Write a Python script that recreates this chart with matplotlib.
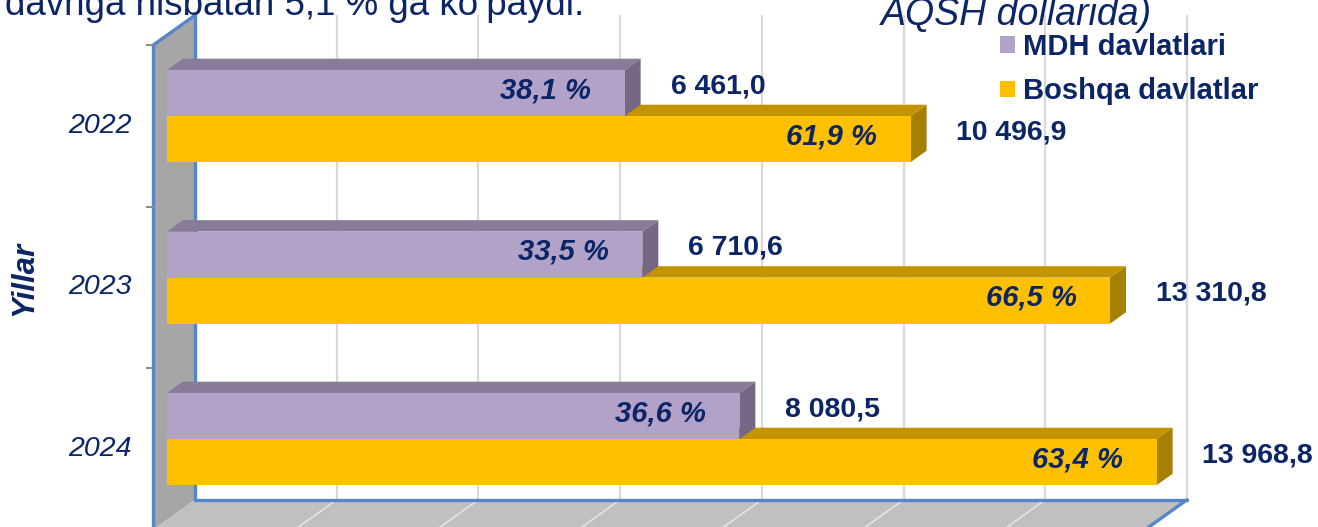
import matplotlib
matplotlib.use('Agg')
import matplotlib.pyplot as plt
from matplotlib.patches import Polygon, Patch

plt.rcParams['font.family'] = ['Liberation Sans', 'DejaVu Sans']

# eksport, mln. AQSH dollari
years = ['2022', '2023', '2024']
mdh = [6461.0, 6710.6, 8080.5]
boshqa = [10496.9, 13310.8, 13968.8]
series_names = ['MDH davlatlari', 'Boshqa davlatlar']
xmax = 14000
xstep = 2000

NAVY = '#0B2566'
BLUE = '#5586C8'
face = {'mdh': ('#B3A2C7', '#887C98', '#746884'),
        'boshqa': ('#FFC000', '#C49400', '#A68000')}


def fmt_val(v):
    return f'{v:,.1f}'.replace(',', ' ').replace('.', ',')


def fmt_pct(p):
    return f'{p:.1f}'.replace('.', ',') + ' %'


W, H = 1318, 527
fig = plt.figure(figsize=(W / 100, H / 100), dpi=100)
ax = fig.add_axes([0, 0, 1, 1])

# pixel scale of the value axis and of one category band
sx = 992 / xmax
sy = 161.5
ax.set_xlim(-153 / sx, (W - 153) / sx)
ax.set_ylim((H - 126) / sy, -126 / sy)
ax.axis('off')

# depth of the 3d box: right and up
dvx, dvy = 42 / sx, -30 / sy
y_top, y_bot = -0.5, len(years) - 0.5

# walls and floor
ax.add_patch(Polygon([(0, y_top), (dvx, y_top + dvy), (dvx, y_bot + dvy), (0, y_bot)],
                     fc='#A6A6A6', ec='none', zorder=1))
ax.add_patch(Polygon([(0, y_bot), (dvx, y_bot + dvy), (xmax + dvx, y_bot + dvy), (xmax, y_bot)],
                     fc='#C0C0C0', ec='none', zorder=1))
grid_x = list(range(xstep, xmax + 1, xstep))
ax.vlines([g + dvx for g in grid_x], y_top + dvy, y_bot + dvy, color='#D9D9D9', lw=1.6, zorder=1.5)
for g in grid_x:
    ax.plot([g + dvx, g], [y_bot + dvy, y_bot], color='#E4E4E4', lw=1.2, zorder=1.5)

edges = [[(0, y_top), (0, y_bot)],
         [(0, y_top), (dvx, y_top + dvy)],
         [(dvx, y_top + dvy), (dvx, y_bot + dvy)],
         [(dvx, y_bot + dvy), (xmax + dvx, y_bot + dvy)],
         [(xmax + dvx, y_bot + dvy), (xmax, y_bot)]]
for (xa, ya), (xb, yb) in edges:
    ax.plot([xa, xb], [ya, yb], color=BLUE, lw=2.4, zorder=2, solid_capstyle='round')
for i in range(len(years) + 1):
    ax.plot([-6 / sx, 0], [i - 0.5, i - 0.5], color='#8C8C8C', lw=1.5, zorder=2)

# 3d bars
d0, d1 = 0.33, 0.71
h = 0.285
ddx, ddy = (d1 - d0) * dvx, (d1 - d0) * dvy
x0 = d0 * dvx


def bars3d(vals, offset, colors, z):
    front, top, side = colors
    ys = [i + offset + d0 * dvy for i in range(len(vals))]
    for v, yc in zip(vals, ys):
        yt, yb = yc - h / 2, yc + h / 2
        ax.add_patch(Polygon([(x0, yt), (x0 + v, yt), (x0 + v + ddx, yt + ddy), (x0 + ddx, yt + ddy)],
                             fc=top, ec='none', zorder=z))
        ax.add_patch(Polygon([(x0 + v, yt), (x0 + v, yb), (x0 + v + ddx, yb + ddy), (x0 + v + ddx, yt + ddy)],
                             fc=side, ec='none', zorder=z))
    ax.barh(ys, vals, height=h, left=x0, color=front, zorder=z + 0.1)
    return ys


totals = [a + b for a, b in zip(mdh, boshqa)]
y_b = bars3d(boshqa, h / 2, face['boshqa'], 3)
y_m = bars3d(mdh, -h / 2, face['mdh'], 4)

for vals, ys in ((mdh, y_m), (boshqa, y_b)):
    for v, yc, t in zip(vals, ys, totals):
        ax.annotate(fmt_pct(v / t * 100), (x0 + v, yc), xytext=(-24, 2), textcoords='offset points',
                    ha='right', va='center', fontsize=21, fontweight='bold', style='italic',
                    color=NAVY, zorder=6)
        ax.annotate(fmt_val(v), (x0 + v, yc), xytext=(33, 5), textcoords='offset points',
                    ha='left', va='center', fontsize=20.5, fontweight='bold', color=NAVY, zorder=6)

for i, yr in enumerate(years):
    ax.text(-21 / sx, i, yr, ha='right', va='center', fontsize=20.5, style='italic', color=NAVY)

fig.text(24 / W, 1 - 278 / H, 'Yillar', rotation=90, ha='center', va='center',
         fontsize=22.5, fontweight='bold', style='italic', color=NAVY)

# slide text cut off at the top
fig.text(5 / W, 1 - 15 / H, 'davriga nisbatan 5,1 % ga ko‘paydi.', fontsize=26.5,
         va='baseline', color=NAVY)
fig.text(881 / W, 1 - 25 / H, 'AQSH dollarida)', fontsize=27, style='italic',
         va='baseline', color=NAVY)

handles = [Patch(fc=face['mdh'][0]), Patch(fc=face['boshqa'][0])]
ax.legend(handles, series_names, loc='upper left', bbox_to_anchor=(1000 / W, 1 - 33 / H),
          bbox_transform=fig.transFigure, frameon=False, labelcolor=NAVY,
          prop={'weight': 'bold', 'size': 21}, handlelength=0.5, handleheight=0.5,
          handletextpad=0.3, labelspacing=0.56, borderpad=0, borderaxespad=0)

fig.savefig('out.png', dpi=100)
